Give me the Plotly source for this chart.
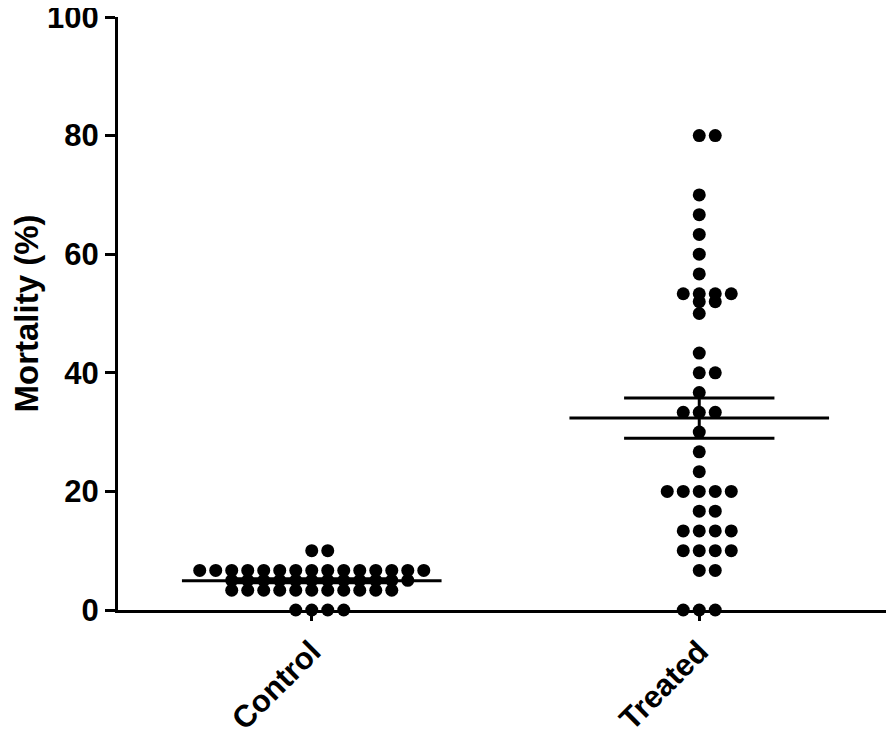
import numpy as np
import plotly.graph_objects as go

groups = ['Control', 'Treated']

# mortality (%) per value level and how many animals sit on it
control_vals = [10, 6.67, 5, 3.33, 0]
control_counts = [2, 15, 12, 11, 4]

treated_vals = [80, 70, 66.67, 63.33, 60, 56.67, 53.33, 52, 50, 43.33, 40, 36.67,
                33.33, 30, 26.67, 23.33, 20, 16.67, 13.33, 10, 6.67, 0]
treated_counts = [2, 1, 1, 1, 1, 1, 4, 2, 1, 1, 2, 1,
                  3, 1, 1, 1, 5, 2, 4, 4, 2, 3]

dx = 0.0413  # horizontal spacing of dots in a row
FONT = 'Liberation Sans, Arial, Helvetica'


def swarm(center, vals, counts):
    xs, ys = [], []
    for v, n in zip(vals, counts):
        for i in range(n):
            xs.append(center + (i - (n - 1) // 2) * dx)
            ys.append(v)
    return xs, ys


fig = go.Figure()

for i, (vals, counts) in enumerate([(control_vals, control_counts),
                                    (treated_vals, treated_counts)]):
    xs, ys = swarm(i, vals, counts)
    fig.add_trace(go.Scatter(x=xs, y=ys, mode='markers',
                             marker=dict(color='black', size=13),
                             cliponaxis=False, showlegend=False))
    data = np.array(ys)
    mean = data.mean()
    sem = data.std(ddof=1) / np.sqrt(len(data))
    # mean line
    fig.add_trace(go.Scatter(x=[i - 0.335, i + 0.335], y=[mean, mean], mode='lines',
                             line=dict(color='black', width=3), showlegend=False))
    # SEM bars
    for y in (mean - sem, mean + sem):
        fig.add_trace(go.Scatter(x=[i - 0.194, i + 0.194], y=[y, y], mode='lines',
                                 line=dict(color='black', width=3), showlegend=False))
    fig.add_trace(go.Scatter(x=[i, i], y=[mean - sem, mean + sem], mode='lines',
                             line=dict(color='black', width=3), showlegend=False))

# page has an 8px body margin, so the figure is shrunk/shifted to land on the same pixels
fig.update_layout(
    width=886, height=733,
    margin=dict(l=110, r=1, t=9, b=131),
    plot_bgcolor='white', paper_bgcolor='white',
    font=dict(family=FONT, color='black'),
)
fig.update_xaxes(
    range=[-0.5, 1.5], tickvals=[0, 1], ticktext=groups, automargin=False,
    tickangle=-45, tickfont=dict(size=31, family=FONT, weight='bold'),
    ticklabeloverflow='allow',
    showline=True, linecolor='black', linewidth=3,
    ticks='outside', ticklen=8, tickwidth=3, tickcolor='black',
    showgrid=False, zeroline=False,
)
fig.update_yaxes(
    range=[0, 100], tickvals=[0, 20, 40, 60, 80, 100], automargin=False,
    tickfont=dict(size=31, family=FONT, weight='bold'),
    ticklabeloverflow='allow',
    title=dict(text='Mortality (%)', font=dict(size=33, family=FONT, weight='bold'), standoff=12),
    showline=True, linecolor='black', linewidth=3,
    ticks='outside', ticklen=10, tickwidth=3, tickcolor='black',
    showgrid=False, zeroline=False,
)

fig.write_html("out.html")
